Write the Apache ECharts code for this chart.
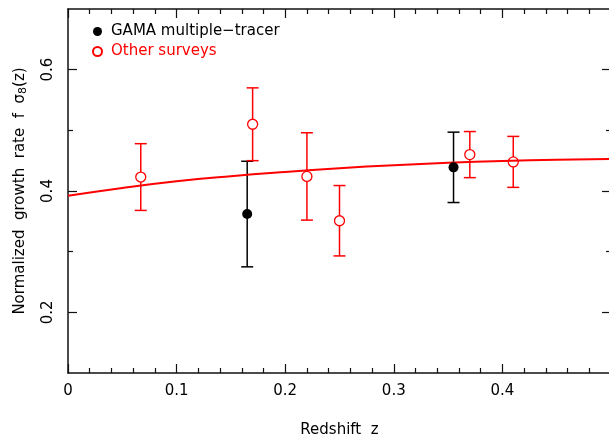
<!DOCTYPE html>
<html>
<head>
<meta charset="utf-8">
<script src="https://cdn.jsdelivr.net/npm/echarts@6/dist/echarts.min.js"></script>
<style>
  html, body { margin: 0; padding: 0; background: #fff; }
  #chart { width: 609px; height: 436px; }
</style>
</head>
<body>
<div id="chart"></div>
<script>
// GAMA multiple-tracer points
const zGama = [0.165, 0.355]
const fsGama = [0.362, 0.439]
const errGama = [0.087, 0.058]

// other surveys
const zOther = [0.067, 0.17, 0.22, 0.25, 0.37, 0.41]
const fsOther = [0.423, 0.51, 0.424, 0.351, 0.460, 0.448]
const errOther = [0.055, 0.06, 0.072, 0.058, 0.038, 0.042]

// model curve
const zModel = [0, 0.05, 0.1, 0.15, 0.2, 0.25, 0.3, 0.35, 0.4, 0.45, 0.5]
const fsModel = [0.392, 0.405, 0.416, 0.4245, 0.4315, 0.4375, 0.4425, 0.4465, 0.4495, 0.4515, 0.4528]

const xTicks = [0, 0.1, 0.2, 0.3, 0.4]
const yTicks = [0.2, 0.4, 0.6]

const font = 'DejaVu Sans'

function errBars (zs, vals, errs) {
  return zs.map((z, i) => [z, vals[i] - errs[i], vals[i] + errs[i]])
}

function barRenderer (color) {
  return function (params, api) {
    const lo = api.coord([api.value(0), api.value(1)])
    const hi = api.coord([api.value(0), api.value(2)])
    const cap = 6
    const style = {stroke: color, lineWidth: 1.5}
    return {
      type: 'group',
      children: [
        {type: 'line', shape: {x1: lo[0], y1: lo[1], x2: hi[0], y2: hi[1]}, style: style},
        {type: 'line', shape: {x1: lo[0] - cap, y1: lo[1], x2: lo[0] + cap, y2: lo[1]}, style: style},
        {type: 'line', shape: {x1: hi[0] - cap, y1: hi[1], x2: hi[0] + cap, y2: hi[1]}, style: style}
      ]
    }
  }
}

function axisX (pos, showLabels) {
  return {
    type: 'value',
    position: pos,
    min: 0,
    max: 0.5,
    interval: 0.1,
    axisLine: {show: true, onZero: false, lineStyle: {color: '#111', width: 1.5}},
    axisTick: {show: true, inside: true, length: 9, lineStyle: {color: '#111', width: 1.2}},
    minorTick: {show: true, splitNumber: 5, length: 5, lineStyle: {color: '#111', width: 1.2}},
    splitLine: {show: false},
    axisLabel: {
      show: showLabels,
      margin: 11,
      color: '#000',
      fontFamily: font,
      fontSize: 15,
      formatter: v => (xTicks.some(t => Math.abs(t - v) < 1e-9) ? (v === 0 ? '0' : v.toFixed(1)) : '')
    }
  }
}

function axisY (pos, showLabels) {
  return {
    type: 'value',
    position: pos,
    min: 0.1,
    max: 0.7,
    interval: 0.1,
    axisLine: {show: true, onZero: false, lineStyle: {color: '#111', width: 1.5}},
    axisTick: {
      show: true,
      inside: true,
      length: 9,
      lineStyle: {color: '#111', width: 1.2},
      customValues: yTicks
    },
    minorTick: {show: false},
    splitLine: {show: false},
    axisLabel: {
      show: showLabels,
      margin: 12,
      rotate: 90,
      color: '#000',
      fontFamily: font,
      fontSize: 15,
      customValues: yTicks,
      formatter: v => v.toFixed(1)
    }
  }
}

const chart = echarts.init(document.getElementById('chart'))

const xBottom = axisX('bottom', true)
xBottom.name = 'Redshift  z'
xBottom.nameLocation = 'middle'
xBottom.nameGap = 50
xBottom.nameTextStyle = {color: '#000', fontFamily: font, fontSize: 15}

const yLeft = axisY('left', true)
yLeft.name = 'Normalized  growth  rate  f  σ{sub|8}(z)'
yLeft.nameLocation = 'middle'
yLeft.nameRotate = 90
yLeft.nameGap = 39
yLeft.nameTextStyle = {
  color: '#000',
  fontFamily: font,
  fontSize: 15,
  rich: {
    sub: {fontFamily: font, fontSize: 11, verticalAlign: 'bottom', padding: [6, 0, 0, 0], color: '#000'}
  }
}

// minor ticks at 0.3 and 0.5 drawn by a second pair of y axes
const yMinorL = axisY('left', false)
yMinorL.axisLine.show = false
yMinorL.axisTick.length = 5
yMinorL.axisTick.customValues = [0.3, 0.5]
const yMinorR = axisY('right', false)
yMinorR.axisLine.show = false
yMinorR.axisTick.length = 5
yMinorR.axisTick.customValues = [0.3, 0.5]

chart.setOption({
  animation: false,
  backgroundColor: '#fff',
  grid: {left: 68, right: -2, top: 9, bottom: 63, containLabel: false, outerBoundsMode: 'none'},
  xAxis: [xBottom, axisX('top', false)],
  yAxis: [yLeft, axisY('right', false), yMinorL, yMinorR],
  legend: {
    orient: 'vertical',
    left: 92,
    top: 24,
    padding: 0,
    itemWidth: 9,
    itemHeight: 9,
    itemGap: 5,
    icon: 'circle',
    textStyle: {fontFamily: font, fontSize: 15, padding: [0, 0, 0, 4]},
    data: [
      {name: 'GAMA multiple−tracer', textStyle: {color: '#000'}},
      {name: 'Other surveys', textStyle: {color: '#ff0000'}}
    ]
  },
  series: [
    {
      name: 'model',
      type: 'line',
      smooth: true,
      symbol: 'none',
      z: 4,
      lineStyle: {color: '#ff0000', width: 2},
      data: zModel.map((z, i) => [z, fsModel[i]])
    },
    {
      name: 'gamaErr',
      type: 'custom',
      z: 2,
      renderItem: barRenderer('#000'),
      data: errBars(zGama, fsGama, errGama)
    },
    {
      name: 'otherErr',
      type: 'custom',
      z: 2,
      renderItem: barRenderer('#ff0000'),
      data: errBars(zOther, fsOther, errOther)
    },
    {
      name: 'GAMA multiple−tracer',
      type: 'scatter',
      symbol: 'circle',
      symbolSize: 10,
      z: 5,
      itemStyle: {color: '#000', opacity: 1},
      data: zGama.map((z, i) => [z, fsGama[i]])
    },
    {
      name: 'Other surveys',
      type: 'scatter',
      symbol: 'circle',
      symbolSize: 10,
      z: 3,
      itemStyle: {color: '#fff', borderColor: '#ff0000', borderWidth: 1.3, opacity: 1},
      data: zOther.map((z, i) => [z, fsOther[i]])
    }
  ]
})
</script>
</body>
</html>
